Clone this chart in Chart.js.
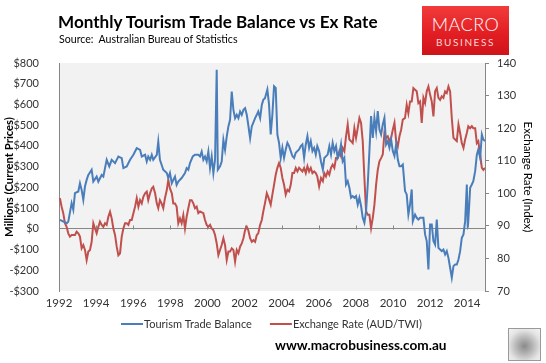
<!DOCTYPE html>
<html>
<head>
<meta charset="utf-8">
<script src="https://cdn.jsdelivr.net/npm/chart.js@4.4.1/dist/chart.umd.min.js"></script>
<style>
  body { margin: 0; background: #fff; }
  #wrap { position: relative; width: 546px; height: 363px; overflow: hidden; font-family: Lato, sans-serif; }
  #c { position: absolute; left: 0; top: 0; }
  .title { position: absolute; left: 58px; top: 11px; font-size: 17.1px; font-weight: bold; color: #000; white-space: nowrap; }
  .source { position: absolute; left: 59px; top: 33px; font-size: 10.6px; color: #000; white-space: nowrap; }
  .logo { position: absolute; left: 422px; top: 6px; width: 87px; height: 49px;
          background: linear-gradient(180deg, #f23b3b 0%, #e11d22 60%, #cf141a 100%); text-align: center; color: #fff; }
  .logo .m { font-size: 18px; font-weight: 300; letter-spacing: 0.5px; margin-top: 9px; line-height: 18px; }
  .logo .b { font-size: 10px; font-weight: 400; letter-spacing: 1.6px; margin-top: 4px; line-height: 10px; color: #ffd6d6; }
  .url { position: absolute; left: 275px; top: 337px; font-size: 13.6px; font-weight: bold; color: #000; white-space: nowrap; }
  .wolf { position: absolute; left: 508px; top: 328px; width: 31px; height: 31px; border: 1px solid #9a9a9a;
          background: radial-gradient(circle at 50% 55%, #8a8a8a 0%, #b5b5b5 35%, #e4e4e4 70%, #f4f4f4 100%); }
</style>
</head>
<body>
<div id="wrap">
  <canvas id="c" width="546" height="363"></canvas>
  <div class="title">Monthly Tourism Trade Balance vs Ex Rate</div>
  <div class="source">Source:&nbsp; Australian Bureau of Statistics</div>
  <div class="logo"><div class="m">MACRO</div><div class="b">BUSINESS</div></div>
  <div class="url">www.macrobusiness.com.au</div>
  <div class="wolf"></div>
</div>
<script>
// Tourism trade balance, $m
const tbbYears = [
  1992.05, 1992.42, 1992.50, 1992.68, 1992.77, 1992.86, 1993.04, 1993.13, 1993.22, 1993.31,
  1993.40, 1993.49, 1993.58, 1993.76, 1993.85, 1994.03, 1994.12, 1994.30, 1994.39, 1994.48,
  1994.57, 1994.71, 1994.84, 1995.02, 1995.20, 1995.38, 1995.47, 1995.65, 1995.83, 1996.01,
  1996.19, 1996.37, 1996.46, 1996.64, 1996.73, 1996.81, 1996.91, 1997.00, 1997.08, 1997.27,
  1997.35, 1997.44, 1997.62, 1997.81, 1997.89, 1997.98, 1998.08, 1998.16, 1998.25, 1998.34,
  1998.43, 1998.61, 1998.79, 1998.88, 1998.97, 1999.06, 1999.21, 1999.33, 1999.51, 1999.60,
  1999.69, 1999.78, 1999.87, 1999.96, 2000.05, 2000.14, 2000.23, 2000.32, 2000.41, 2000.50,
  2000.56, 2000.68, 2000.77, 2000.86, 2000.95, 2001.04, 2001.13, 2001.22, 2001.31, 2001.40,
  2001.49, 2001.58, 2001.67, 2001.76, 2001.85, 2001.94, 2002.03, 2002.12, 2002.20, 2002.30,
  2002.39, 2002.57, 2002.66, 2002.74, 2002.84, 2002.93, 2003.01, 2003.10, 2003.23, 2003.32,
  2003.41, 2003.50, 2003.59, 2003.68, 2003.77, 2003.86, 2003.95, 2004.04, 2004.13, 2004.22,
  2004.31, 2004.40, 2004.49, 2004.58, 2004.67, 2004.76, 2004.94, 2005.03, 2005.12, 2005.21,
  2005.30, 2005.39, 2005.48, 2005.57, 2005.66, 2005.75, 2005.84, 2005.92, 2006.02, 2006.12,
  2006.22, 2006.30, 2006.48, 2006.57, 2006.66, 2006.75, 2006.84, 2006.93, 2007.02, 2007.11,
  2007.20, 2007.29, 2007.38, 2007.47, 2007.56, 2007.65, 2007.74, 2007.83, 2007.92, 2008.01,
  2008.10, 2008.19, 2008.28, 2008.37, 2008.46, 2008.55, 2008.64, 2008.73, 2008.82, 2008.91,
  2009.00, 2009.09, 2009.18, 2009.27, 2009.36, 2009.45, 2009.54, 2009.63, 2009.72, 2009.81,
  2009.90, 2009.99, 2010.08, 2010.17, 2010.26, 2010.35, 2010.44, 2010.53, 2010.65, 2010.74,
  2010.83, 2010.92, 2011.01, 2011.07, 2011.19, 2011.28, 2011.37, 2011.46, 2011.64, 2011.73,
  2011.82, 2011.91, 2012.00, 2012.09, 2012.18, 2012.27, 2012.36, 2012.45, 2012.54, 2012.63,
  2012.72, 2012.81, 2012.90, 2012.99, 2013.08, 2013.17, 2013.26, 2013.35, 2013.44, 2013.53,
  2013.62, 2013.71, 2013.80, 2013.89, 2013.98, 2014.03, 2014.06, 2014.16, 2014.25, 2014.33,
  2014.43, 2014.52, 2014.60, 2014.70, 2014.79, 2014.87, 2014.96
];
const tbbValues = [
  43, 27, 35, 124, 92, 172, 180, 220, 188, 140,
  204, 236, 260, 285, 228, 252, 228, 260, 252, 293,
  333, 301, 333, 317, 349, 341, 293, 301, 333, 357,
  389, 381, 349, 357, 325, 349, 333, 357, 333, 357,
  421, 333, 285, 269, 245, 269, 220, 236, 252, 212,
  228, 245, 269, 293, 285, 317, 349, 357, 357, 349,
  373, 333, 349, 325, 373, 293, 349, 269, 333, 767,
  285, 301, 325, 429, 381, 445, 494, 526, 662, 574,
  534, 550, 534, 566, 550, 574, 582, 550, 502, 437,
  494, 534, 550, 566, 534, 598, 622, 630, 672, 600,
  455, 551, 688, 680, 455, 415, 342, 391, 342, 383,
  415, 399, 375, 351, 342, 367, 383, 399, 407, 342,
  407, 447, 391, 423, 375, 391, 358, 399, 375, 325,
  286, 342, 358, 399, 358, 415, 375, 399, 342, 358,
  407, 326, 342, 214, 230, 198, 150, 158, 150, 158,
  117, 150, 110, 53, 29, 85, 214, 375, 544, 439,
  535, 471, 568, 479, 455, 503, 535, 407, 423, 391,
  431, 375, 351, 407, 334, 302, 302, 310, 182, 166,
  69, 117, 190, 37, 69, 53, 45, 53, 53, -27,
  -59, -196, 21, 21, -59, -76, 45, -92, -100, -108,
  -100, -124, -108, -140, -188, -236, -180, -172, -172, -148,
  -108, -43, -27, 37, 214, 5, 37, 198, 214, 230,
  278, 358, 383, 342, 455, 431, 423
];

// Exchange rate, AUD trade-weighted index
const twiYears = [
  1992.05, 1992.14, 1992.23, 1992.32, 1992.41, 1992.50, 1992.59, 1992.68, 1992.86, 1992.95,
  1993.04, 1993.13, 1993.22, 1993.31, 1993.40, 1993.49, 1993.58, 1993.67, 1993.76, 1993.85,
  1993.94, 1994.03, 1994.12, 1994.21, 1994.30, 1994.39, 1994.48, 1994.57, 1994.66, 1994.75,
  1994.84, 1994.93, 1995.02, 1995.11, 1995.20, 1995.29, 1995.38, 1995.47, 1995.56, 1995.65,
  1995.74, 1995.83, 1995.92, 1996.01, 1996.10, 1996.19, 1996.28, 1996.37, 1996.46, 1996.55,
  1996.64, 1996.73, 1996.81, 1996.91, 1997.00, 1997.08, 1997.18, 1997.27, 1997.35, 1997.44,
  1997.53, 1997.62, 1997.71, 1997.81, 1997.89, 1997.98, 1998.08, 1998.16, 1998.25, 1998.34,
  1998.43, 1998.52, 1998.61, 1998.70, 1998.79, 1998.88, 1998.97, 1999.06, 1999.15, 1999.24,
  1999.33, 1999.42, 1999.51, 1999.60, 1999.78, 1999.87, 1999.96, 2000.05, 2000.14, 2000.23,
  2000.32, 2000.41, 2000.50, 2000.59, 2000.68, 2000.77, 2000.86, 2000.95, 2001.04, 2001.13,
  2001.22, 2001.31, 2001.40, 2001.49, 2001.58, 2001.67, 2001.76, 2001.85, 2001.94, 2002.03,
  2002.12, 2002.20, 2002.30, 2002.39, 2002.48, 2002.57, 2002.66, 2002.74, 2002.84, 2002.93,
  2003.01, 2003.10, 2003.20, 2003.30, 2003.41, 2003.50, 2003.59, 2003.68, 2003.77, 2003.86,
  2003.95, 2004.04, 2004.13, 2004.22, 2004.31, 2004.40, 2004.49, 2004.58, 2004.67, 2004.76,
  2004.85, 2004.94, 2005.12, 2005.21, 2005.30, 2005.39, 2005.48, 2005.57, 2005.66, 2005.75,
  2005.84, 2005.92, 2006.02, 2006.12, 2006.22, 2006.30, 2006.39, 2006.48, 2006.57, 2006.66,
  2006.75, 2006.84, 2006.93, 2007.02, 2007.11, 2007.20, 2007.29, 2007.38, 2007.47, 2007.56,
  2007.65, 2007.74, 2007.83, 2007.92, 2008.01, 2008.10, 2008.19, 2008.28, 2008.37, 2008.46,
  2008.55, 2008.64, 2008.73, 2008.82, 2008.91, 2009.00, 2009.09, 2009.18, 2009.27, 2009.36,
  2009.45, 2009.54, 2009.63, 2009.72, 2009.81, 2009.90, 2009.99, 2010.08, 2010.17, 2010.26,
  2010.35, 2010.44, 2010.53, 2010.65, 2010.74, 2010.83, 2010.92, 2011.01, 2011.10, 2011.19,
  2011.28, 2011.37, 2011.46, 2011.55, 2011.64, 2011.73, 2011.82, 2011.91, 2012.00, 2012.09,
  2012.18, 2012.27, 2012.36, 2012.45, 2012.54, 2012.63, 2012.72, 2012.81, 2012.90, 2012.99,
  2013.08, 2013.17, 2013.26, 2013.35, 2013.44, 2013.53, 2013.62, 2013.71, 2013.80, 2013.89,
  2013.98, 2014.06, 2014.16, 2014.25, 2014.33, 2014.43, 2014.52, 2014.60, 2014.70, 2014.79,
  2014.87, 2014.96
];
const twiValues = [
  98.5, 95.9, 93.9, 90.8, 89.7, 87.7, 86.7, 87.2, 87.2, 88.2,
  87.7, 86.7, 83.1, 84.1, 82.6, 79.5, 82.1, 82.6, 85.1, 90.8,
  89.2, 87.7, 89.7, 91.3, 90.3, 89.7, 90.8, 90.3, 92.8, 94.3,
  92.3, 89.2, 87.2, 83.6, 81.0, 81.6, 86.7, 89.2, 90.8, 90.8,
  90.3, 91.8, 91.8, 93.9, 95.9, 98.5, 95.9, 97.9, 96.9, 99.0,
  100.0, 100.5, 97.9, 100.0, 101.5, 102.0, 100.0, 96.9, 95.4, 97.9,
  96.9, 95.4, 98.5, 101.0, 104.1, 101.5, 100.0, 96.9, 96.9, 95.9,
  90.8, 92.3, 90.8, 93.3, 89.2, 92.8, 95.4, 97.9, 97.9, 96.9,
  95.4, 95.9, 93.9, 94.4, 93.9, 91.8, 90.3, 89.7, 90.3, 89.2,
  88.7, 87.2, 84.6, 81.0, 82.6, 84.1, 86.2, 84.1, 79.5, 82.1,
  82.1, 83.1, 82.6, 79.0, 82.6, 81.6, 83.6, 84.6, 86.2, 88.7,
  89.7, 88.7, 86.2, 85.1, 85.6, 85.1, 87.2, 87.7, 90.3, 91.8,
  94.4, 96.9, 100.0, 98.5, 96.5, 99.6, 102.6, 105.7, 107.8, 109.3,
  107.8, 104.7, 102.6, 99.6, 101.1, 100.6, 102.6, 106.2, 106.2, 107.8,
  106.7, 107.8, 106.7, 107.8, 106.2, 108.3, 106.7, 107.8, 106.2, 106.7,
  106.2, 105.2, 102.1, 104.7, 103.7, 106.2, 105.2, 106.7, 105.7, 107.8,
  108.8, 107.8, 110.8, 110.8, 112.9, 111.4, 113.9, 112.9, 117.5, 121.1,
  116.5, 116.0, 115.4, 120.0, 117.0, 120.0, 123.1, 121.6, 116.0, 104.7,
  94.5, 93.4, 93.4, 89.3, 92.4, 96.5, 102.6, 107.2, 109.8, 110.8,
  111.9, 118.5, 117.0, 117.5, 116.0, 117.0, 119.5, 121.6, 116.0, 114.4,
  117.5, 119.5, 122.6, 123.1, 127.2, 124.6, 128.2, 128.2, 132.3, 131.8,
  131.3, 127.7, 128.2, 121.6, 129.3, 127.7, 131.3, 132.8, 130.3, 128.2,
  123.6, 131.3, 132.3, 129.3, 128.7, 129.8, 129.3, 131.3, 130.8, 132.8,
  131.3, 123.1, 117.0, 116.5, 116.0, 121.1, 118.5, 115.4, 113.9, 116.5,
  118.5, 120.6, 120.0, 120.6, 120.0, 120.0, 115.4, 116.0, 111.9, 107.8,
  107.2, 107.8
];

const xTickYears = [1992, 1994, 1996, 1998, 2000, 2002, 2004, 2006, 2008, 2010, 2012, 2014];
const seriesLabels = ['Tourism Trade Balance', 'Exchange Rate (AUD/TWI)'];
const seriesColors = ['#4a7ebb', '#c0504d'];

Chart.defaults.font.family = 'Lato, sans-serif';
Chart.defaults.color = '#333';

const axisGray = '#868686';

// grey plot area, little tick marks on the zero line, and the legend
const decor = {
  id: 'decor',
  beforeDraw(chart) {
    const { ctx, chartArea: a } = chart;
    ctx.save();
    ctx.fillStyle = '#f2f2f2';
    ctx.fillRect(a.left, a.top, a.right - a.left, a.bottom - a.top);
    ctx.restore();
  },
  beforeDatasetsDraw(chart) {
    const { ctx, scales: { x, y } } = chart;
    const y0 = Math.round(y.getPixelForValue(0)) + 0.5;
    ctx.save();
    ctx.strokeStyle = axisGray;
    ctx.lineWidth = 1;
    x.ticks.forEach(t => {
      const px = Math.round(x.getPixelForValue(t.value)) + 0.5;
      ctx.beginPath();
      ctx.moveTo(px, y0 - 4);
      ctx.lineTo(px, y0);
      ctx.stroke();
    });
    ctx.restore();
  },
  afterDraw(chart) {
    const { ctx } = chart;
    let lx = 121;
    const ly = 324;
    ctx.save();
    ctx.font = '11px Lato, sans-serif';
    ctx.textBaseline = 'middle';
    chart.data.datasets.forEach(ds => {
      ctx.strokeStyle = ds.borderColor;
      ctx.lineWidth = 2;
      ctx.beginPath();
      ctx.moveTo(lx, ly);
      ctx.lineTo(lx + 22, ly);
      ctx.stroke();
      ctx.fillStyle = '#333';
      ctx.fillText(ds.label, lx + 23, ly);
      lx += 23 + ctx.measureText(ds.label).width + 18;
    });
    ctx.restore();
  }
};

new Chart(document.getElementById('c'), {
  type: 'line',
  data: {
    datasets: [{
      label: seriesLabels[0],
      data: tbbYears.map((yr, i) => ({ x: yr, y: tbbValues[i] })),
      borderColor: seriesColors[0],
      borderWidth: 2,
      pointRadius: 0,
      tension: 0,
      yAxisID: 'y'
    }, {
      label: seriesLabels[1],
      data: twiYears.map((yr, i) => ({ x: yr, y: twiValues[i] })),
      borderColor: seriesColors[1],
      borderWidth: 2,
      pointRadius: 0,
      tension: 0,
      yAxisID: 'y2'
    }]
  },
  options: {
    responsive: false,
    animation: false,
    layout: { padding: { top: 63, left: 0, right: 0, bottom: 42 } },
    plugins: { legend: { display: false }, tooltip: { enabled: false } },
    scales: {
      x: {
        type: 'linear',
        min: 1992,
        max: 2014.96,
        afterBuildTicks: s => { s.ticks = xTickYears.map(v => ({ value: v })); },
        afterFit: s => { s.height = 30; },
        ticks: { callback: v => String(v), maxRotation: 0, autoSkip: false, padding: 5, font: { size: 11.5 } },
        grid: { display: false, drawTicks: false },
        border: { display: false }
      },
      y: {
        position: 'left',
        min: -300,
        max: 800,
        afterFit: s => { s.width = 59; },
        ticks: { stepSize: 100, padding: 20, font: { size: 11 },
                 callback: v => (v < 0 ? '-$' : '$') + Math.abs(v) },
        grid: { drawTicks: false, color: c => (c.tick && c.tick.value === 0) ? axisGray : 'rgba(0,0,0,0)' },
        border: { color: axisGray },
        title: { display: true, text: 'Millions (Current Prices)', color: '#000',
                 font: { size: 11.3, weight: 'bold' }, padding: { top: 3, bottom: 0 } }
      },
      y2: {
        position: 'right',
        min: 70,
        max: 140,
        afterFit: s => { s.width = 61; },
        ticks: { stepSize: 10, padding: 8, font: { size: 11 } },
        grid: { drawOnChartArea: false, drawTicks: true, tickLength: 4, color: axisGray },
        border: { color: axisGray },
        title: { display: true, text: 'Exchange Rate (Index)', color: '#000',
                 font: { size: 11.5 }, padding: { top: 11, bottom: 0 } }
      }
    }
  },
  plugins: [decor]
});
</script>
</body>
</html>
